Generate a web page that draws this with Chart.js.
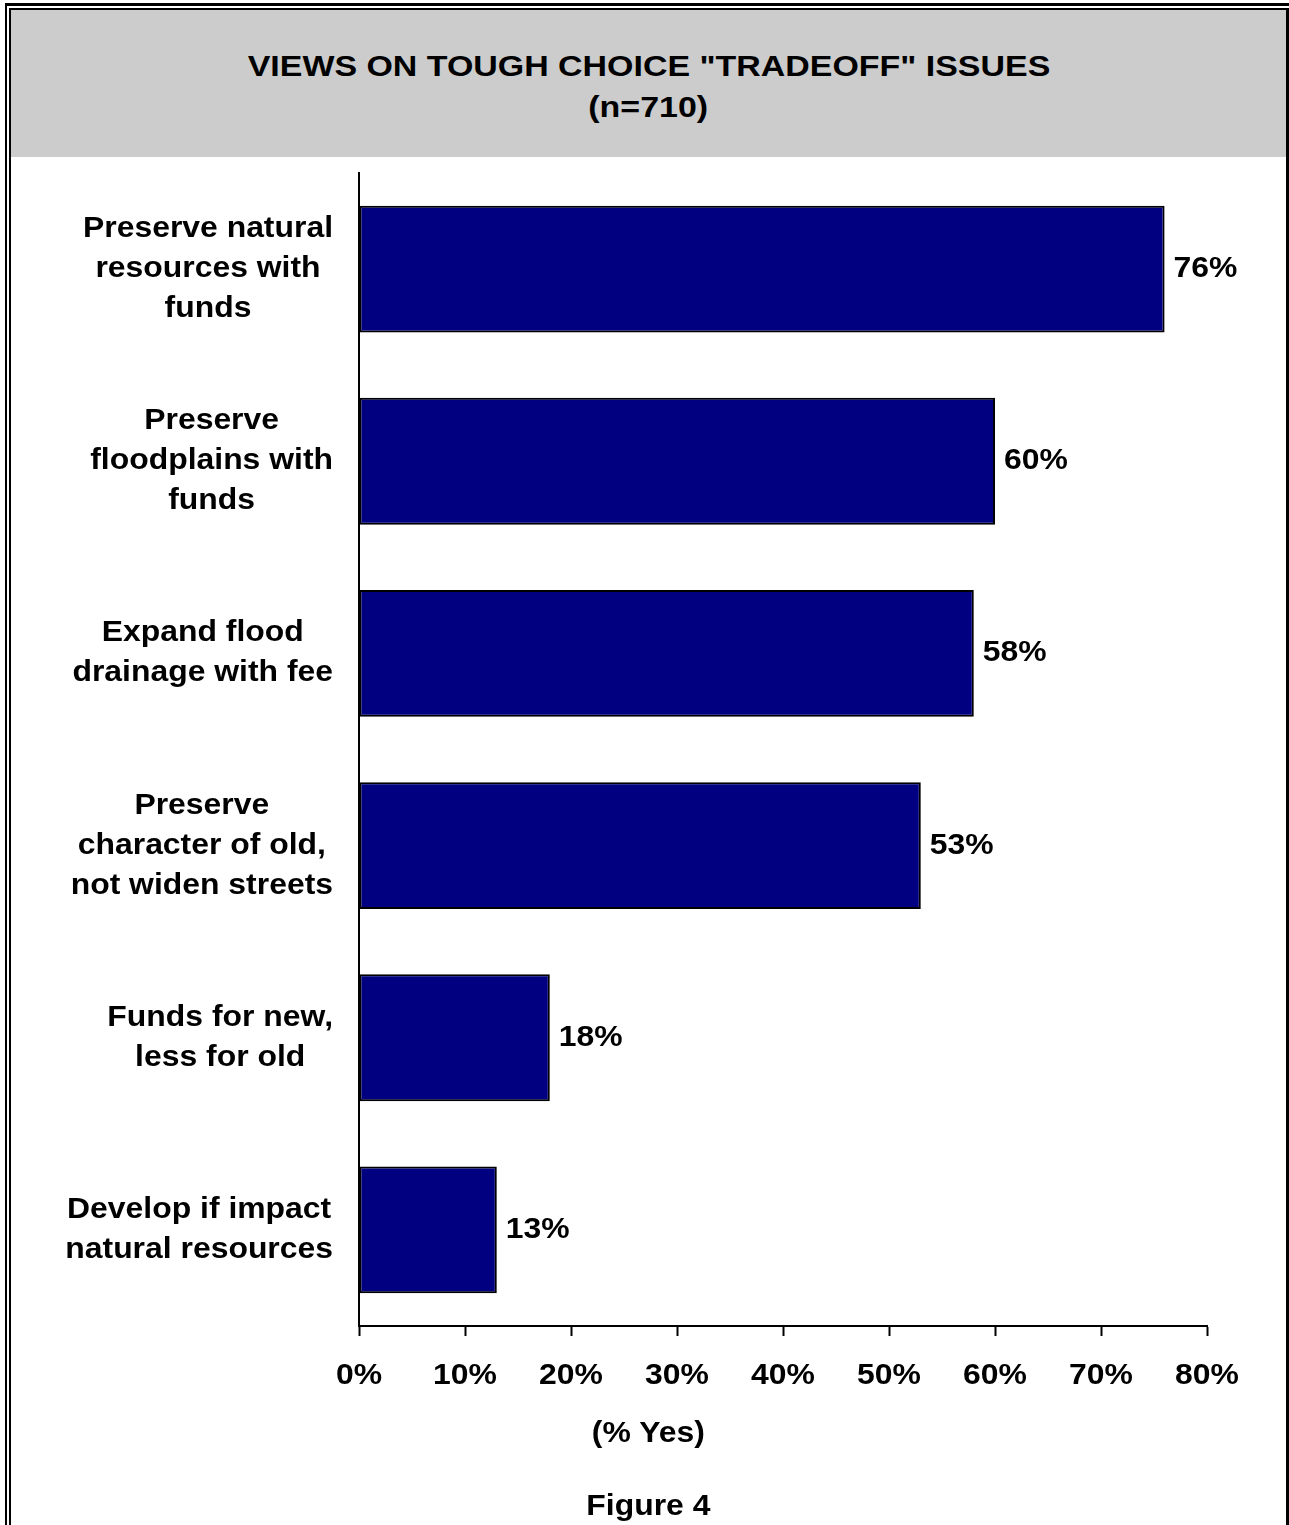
<!DOCTYPE html>
<html>
<head>
<meta charset="utf-8">
<script src="https://cdn.jsdelivr.net/npm/chart.js@4"></script>
<style>
    html, body { margin: 0; padding: 0; background: #fff; overflow: hidden; }
    body { width: 1289px; height: 1525px; position: relative; font-family: Arial, "Liberation Sans", sans-serif; }
    .outer { position: absolute; left: 5px; top: 3px; width: 1400px; height: 1600px;
             border-left: 2px solid #000; border-top: 3px solid #000; }
    .inner { position: absolute; left: 9px; top: 8px; width: 1275px; height: 1600px;
             border-left: 2px solid #000; border-top: 2px solid #000; border-right: 3px solid #000; }
    .header { position: absolute; left: 11px; top: 10px; width: 1275px; height: 147px; background: #cccccc;
              text-align: center; font-weight: bold; font-size: 29px; line-height: 41px;
              box-sizing: border-box; padding-top: 36px; color: #000; }
    .header span { display: inline-block; transform: scaleX(1.17); }
    .wrap { position: absolute; left: 11px; top: 157px; width: 1275px; height: 1368px; }
    .caption { position: absolute; left: 11px; width: 1275px; text-align: center;
               font-weight: bold; font-size: 29px; line-height: 34px; color: #000; }
    .caption span { display: inline-block; transform: scaleX(1.1); }
</style>
</head>
<body>
<div class="outer"></div>
<div class="inner"></div>
<div class="header"><span>VIEWS ON TOUGH CHOICE "TRADEOFF" ISSUES</span><br><span>(n=710)</span></div>
<div class="wrap"><canvas id="tradeoffChart" width="1275" height="1368"></canvas></div>
<div class="caption" style="top: 1415px;"><span>(% Yes)</span></div>
<div class="caption" style="top: 1488px;"><span>Figure 4</span></div>

<script>
const categories = [
    ['Preserve natural', 'resources with', 'funds'],
    ['Preserve', 'floodplains with', 'funds'],
    ['Expand flood', 'drainage with fee'],
    ['Preserve', 'character of old,', 'not widen streets'],
    ['Funds for new,', 'less for old'],
    ['Develop if impact', 'natural resources']
];
const yesValues = [76, 60, 58, 53, 18, 13];
const xTicks = [0, 10, 20, 30, 40, 50, 60, 70, 80];

const FONT = 'Arial, "Liberation Sans", sans-serif';
const STRETCH = 1.1;

// text drawn a bit wider, like the original's rendering
function wideText(ctx, text, x, y) {
    ctx.save();
    ctx.translate(x, y);
    ctx.scale(STRETCH, 1);
    ctx.fillText(text, 0, 0);
    ctx.restore();
}

const labelPlugin = {
    id: 'labelPlugin',
    afterDraw(chart) {
        const ctx = chart.ctx;
        const xScale = chart.scales.x;
        const yScale = chart.scales.y;
        ctx.save();
        ctx.font = 'bold 29px ' + FONT;
        ctx.fillStyle = '#000';
        ctx.textBaseline = 'middle';

        // category labels: lines centred in a block that is right aligned
        const rightEdge = yScale.right - 26;
        ctx.textAlign = 'center';
        categories.forEach((lines, i) => {
            const cy = yScale.getPixelForValue(i);
            const blockW = Math.max(...lines.map(l => ctx.measureText(l).width)) * STRETCH;
            const cx = rightEdge - blockW / 2;
            lines.forEach((line, j) => {
                wideText(ctx, line, cx, cy + (j - (lines.length - 1) / 2) * 40);
            });
        });

        // x tick labels
        xTicks.forEach(v => {
            wideText(ctx, v + '%', xScale.getPixelForValue(v), xScale.top + 50);
        });

        // value labels
        ctx.textAlign = 'left';
        chart.getDatasetMeta(0).data.forEach((bar, i) => {
            wideText(ctx, yesValues[i] + '%', bar.x + 9, bar.y);
        });
        ctx.restore();
    }
};

new Chart(document.getElementById('tradeoffChart').getContext('2d'), {
    type: 'bar',
    data: {
        labels: categories,
        datasets: [{
            label: '% Yes',
            data: yesValues,
            backgroundColor: '#000080',
            borderColor: '#000000',
            borderWidth: 2,
            borderSkipped: false,
            barPercentage: 0.66,
            categoryPercentage: 1.0
        }]
    },
    options: {
        indexAxis: 'y',
        responsive: false,
        animation: false,
        layout: { padding: { top: 16, right: 79, left: 0, bottom: 0 } },
        plugins: {
            legend: { display: false },
            tooltip: { enabled: false },
            title: { display: false }
        },
        scales: {
            x: {
                min: 0,
                max: 80,
                afterBuildTicks: (scale) => { scale.ticks = xTicks.map(v => ({ value: v })); },
                afterFit: (scale) => { scale.height = 199; },
                grid: {
                    drawOnChartArea: false,
                    drawTicks: true,
                    tickLength: 10,
                    tickWidth: 2,
                    tickColor: '#000'
                },
                border: { display: true, color: '#000', width: 2 },
                ticks: { display: false }
            },
            y: {
                afterFit: (scale) => { scale.width = 348; },
                grid: { drawOnChartArea: false, drawTicks: false },
                border: { display: true, color: '#000', width: 2 },
                ticks: { display: false }
            }
        }
    },
    plugins: [labelPlugin]
});
</script>
</body>
</html>
